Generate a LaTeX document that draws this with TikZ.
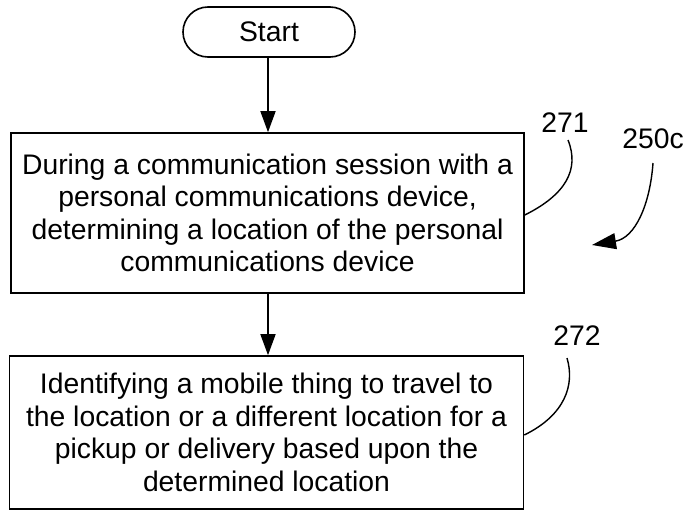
\documentclass[tikz,border=0pt]{standalone}
\usepackage{fontspec}
\setmainfont{Liberation Sans}
\usetikzlibrary{arrows.meta}
\begin{document}
\begin{tikzpicture}[x=1pt,y=-1pt,
  every node/.style={font=\fontsize{28.3}{32.5}\selectfont, inner sep=0pt},
  procbox/.style={draw, line width=1.6pt, align=center},
  flow/.style={line width=1.6pt, -{Triangle[length=21pt,width=15pt]}},
  leader/.style={line width=1.4pt},
  lbl/.style={font=\fontsize{28.3}{32.5}\selectfont}]
\useasboundingbox (0,0) rectangle (688,514);
\node[procbox, rounded corners=25pt, minimum width=172pt, minimum height=50pt] (start) at (269,32) {Start};
\node[procbox, minimum width=513pt, minimum height=160pt] (b1) at (267.5,213) {During a communication session with a\\personal communications device,\\determining a location of the personal\\communications device};
\node[procbox, minimum width=514pt, minimum height=153pt] (b2) at (266.5,432.5) {Identifying a mobile thing to travel to\\the location or a different location for a\\pickup or delivery based upon the\\determined location};
\draw[flow] (start.south -| 268,0) -- (b1.north -| 268,0);
\draw[flow] (b1.south -| 268,0) -- (b2.north -| 268,0);
\node[lbl] (l271) at (565,123) {271};
\node[lbl] (l250) at (653,139) {250c};
\node[lbl] (l272) at (577,336) {272};
\coordinate (e271) at (b1.east |- 0,215);
\coordinate (e272) at (b2.east |- 0,435);
\coordinate (tip) at (592,245);
\draw[leader] (568,140) .. controls (580,170) and (565,195) .. (e271);
\draw[leader] (567,358) .. controls (575,385) and (565,415) .. (e272);
\draw[leader, -{Triangle[length=24pt,width=16pt]}] (653,163) .. controls (650,205) and (635,238) .. (tip);
\end{tikzpicture}
\end{document}
